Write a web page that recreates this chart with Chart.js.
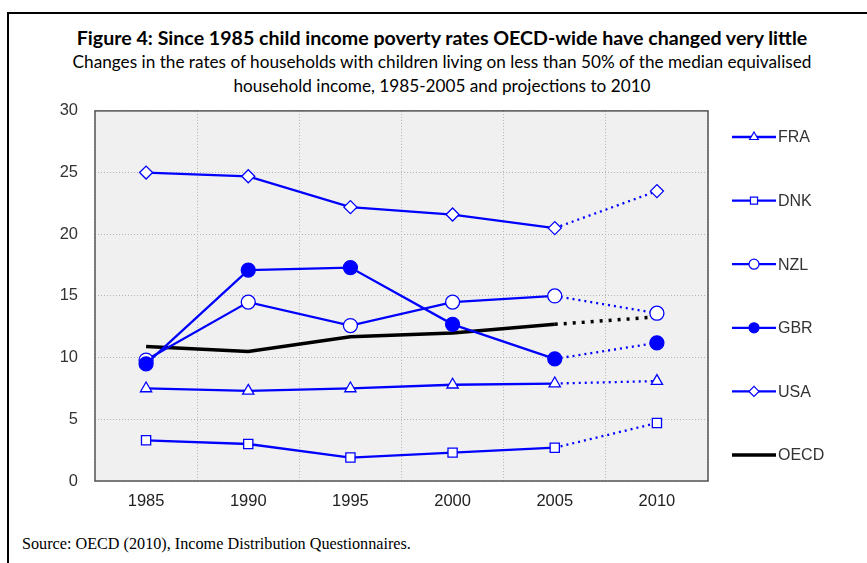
<!DOCTYPE html>
<html>
<head>
<meta charset="utf-8">
<script src="https://cdn.jsdelivr.net/npm/chart.js@4.4.0/dist/chart.umd.min.js"></script>
<style>
  html, body { margin: 0; padding: 0; background: #fff; overflow: hidden; }
  #frame {
    position: absolute; left: 7px; top: 12px; width: 870px; height: 600px;
    border: 2px solid #000; box-sizing: border-box;
  }
  .title {
    position: absolute; left: 7px; width: 870px; text-align: center;
    font-family: Lato, "Open Sans", sans-serif; color: #000; white-space: nowrap;
  }
  #t1 { top: 26px; font-weight: bold; font-size: 19.6px; }
  #t2 { top: 50px; font-size: 17.2px; line-height: 24px; }
  #source {
    position: absolute; left: 22px; top: 535px;
    font-family: "Liberation Serif", serif; font-size: 16.2px; color: #000;
  }
  #wrap { position: absolute; left: 0; top: 84px; width: 867px; height: 441px; }
</style>
</head>
<body>
<div id="frame"></div>
<div class="title" id="t1">Figure 4: Since 1985 child income poverty rates OECD-wide have changed very little</div>
<div class="title" id="t2">Changes in the rates of households with children living on less than 50% of the median equivalised<br>household income, 1985-2005 and projections to 2010</div>
<div id="wrap"><canvas id="chart"></canvas></div>
<div id="source">Source: OECD (2010), Income Distribution Questionnaires.</div>
<script>
const YEARS = ['1985', '1990', '1995', '2000', '2005', '2010'];
const FRA = [7.5, 7.3, 7.5, 7.8, 7.9, 8.1];
const DNK = [3.3, 3.0, 1.9, 2.3, 2.7, 4.7];
const NZL = [9.8, 14.5, 12.6, 14.5, 15.0, 13.6];
const GBR = [9.5, 17.1, 17.3, 12.7, 9.9, 11.2];
const USA = [25.0, 24.7, 22.2, 21.6, 20.5, 23.5];
const OECD = [10.9, 10.5, 11.7, 12.0, 12.7, 13.3];

const BLUE = '#0000ff';
const TICK_FONT = { family: '"Liberation Sans", Arial, sans-serif', size: 16.5 };

// last segment (2005 -> 2010) is a projection, drawn dotted
function projDash(dash) {
  return { borderDash: ctx => ctx.p1DataIndex === YEARS.length - 1 ? dash : undefined };
}

function blueSeries(label, data, style, filled, order) {
  return {
    label, data, order,
    borderColor: BLUE,
    borderWidth: 2.3,
    pointStyle: style,
    pointRadius: style === 'circle' ? 7 : 6.5,
    pointBorderWidth: 1.3,
    pointBackgroundColor: filled ? BLUE : '#fff',
    pointBorderColor: BLUE,
    tension: 0,
    segment: projDash([2, 4])
  };
}

const bgPlugin = {
  id: 'plotBg',
  beforeDraw(chart) {
    const { ctx, chartArea: a } = chart;
    ctx.save();
    ctx.fillStyle = '#f0f0f0';
    ctx.fillRect(a.left, a.top, a.right - a.left, a.bottom - a.top);
    ctx.restore();
  },
  afterDatasetsDraw(chart) {
    const { ctx, chartArea: a } = chart;
    ctx.save();
    ctx.strokeStyle = '#555';
    ctx.lineWidth = 1.5;
    ctx.strokeRect(a.left, a.top, a.right - a.left, a.bottom - a.top);
    ctx.restore();
  }
};

// legend drawn on the right: line sample with marker, then label
const sideLegend = {
  id: 'sideLegend',
  afterDraw(chart) {
    const { ctx } = chart;
    const x0 = 732, x1 = 776, xm = 754;
    let y = 53;
    chart.data.datasets.forEach(ds => {
      ctx.save();
      ctx.strokeStyle = ds.borderColor;
      ctx.lineWidth = ds.label === 'OECD' ? 3.5 : 2.3;
      ctx.beginPath();
      ctx.moveTo(x0, y);
      ctx.lineTo(x1, y);
      ctx.stroke();
      if (ds.pointRadius > 0) {
        ctx.fillStyle = ds.pointBackgroundColor;
        ctx.strokeStyle = ds.pointBorderColor;
        ctx.lineWidth = 1.2;
        Chart.helpers.drawPoint(ctx, { pointStyle: ds.pointStyle, radius: 5, borderWidth: 1.2 }, xm, y);
      }
      ctx.fillStyle = '#333';
      ctx.font = '16px "Liberation Sans", Arial, sans-serif';
      ctx.textBaseline = 'middle';
      ctx.fillText(ds.label, x1 + 2, y + 1);
      ctx.restore();
      y += 63.6;
    });
  }
};

new Chart(document.getElementById('chart'), {
  type: 'line',
  data: {
    labels: YEARS,
    datasets: [
      blueSeries('FRA', FRA, 'triangle', false, 2),
      blueSeries('DNK', DNK, 'rect', false, 3),
      blueSeries('NZL', NZL, 'circle', false, 4),
      blueSeries('GBR', GBR, 'circle', true, 1),
      blueSeries('USA', USA, 'rectRot', false, 5),
      {
        label: 'OECD', data: OECD, order: 6,
        borderColor: '#000', borderWidth: 3.5,
        pointRadius: 0, pointHoverRadius: 0,
        tension: 0,
        segment: projDash([3, 6])
      }
    ]
  },
  options: {
    responsive: true,
    maintainAspectRatio: false,
    animation: false,
    layout: { padding: { top: 5, right: 159, left: 0, bottom: 0 } },
    plugins: {
      legend: { display: false },
      tooltip: { enabled: false }
    },
    scales: {
      x: {
        offset: true,
        grid: { offset: true, color: '#b4b4b4', lineWidth: 1, drawTicks: false },
        border: { display: false, dash: [1, 2] },
        ticks: { color: '#222', padding: 11, font: TICK_FONT },
        afterFit(s) { s.height = 44; }
      },
      y: {
        min: 0, max: 30,
        ticks: { stepSize: 5, color: '#333', padding: 17, font: TICK_FONT },
        grid: { color: '#b4b4b4', lineWidth: 1, drawTicks: false },
        border: { display: false, dash: [1, 2] },
        afterFit(s) { s.width = 95; }
      }
    }
  },
  plugins: [bgPlugin, sideLegend]
});
</script>
</body>
</html>
